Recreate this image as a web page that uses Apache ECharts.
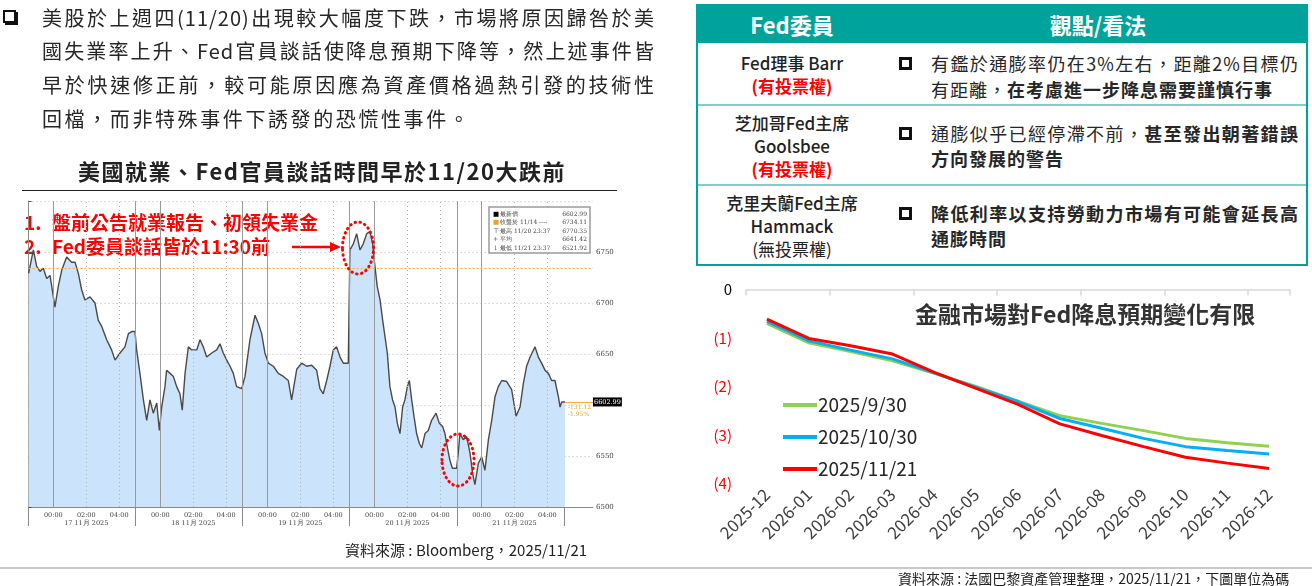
<!DOCTYPE html>
<html><head><meta charset="utf-8">
<script src="https://cdn.jsdelivr.net/npm/echarts@6/dist/echarts.min.js"></script>
<style>
html,body{margin:0;padding:0;background:#fff;}
body{width:1312px;height:586px;overflow:hidden;position:relative;font-family:"Noto Sans CJK TC","Noto Sans",sans-serif;color:#262626;}
#chart{position:absolute;left:0;top:0;width:1312px;height:586px;}
.abs{position:absolute;white-space:nowrap;}
.para{position:absolute;left:42px;width:613px;font-size:20px;line-height:30px;letter-spacing:1px;color:#262626;text-align:justify;text-align-last:justify;}
.chk{position:absolute;width:9px;height:9px;border:2px solid #111;box-shadow:2px 2px 0 #111;}
.tchk{position:absolute;width:7px;height:7px;border:3px solid #111;}
.cell{position:absolute;left:0;width:188px;text-align:center;font-size:17px;line-height:23px;color:#222;font-weight:500;}
.red{color:#ff0000;font-weight:700;}
.rt{position:absolute;left:233px;width:368px;font-size:18px;line-height:25px;letter-spacing:1px;color:#262626;}
.j{text-align:justify;text-align-last:justify;}
.b{font-weight:700;}
</style></head>
<body>
<div id="chart"></div>

<!-- top-left paragraph -->
<div class="chk" style="left:3px;top:10px;"></div>
<div class="para" style="top:3px;">美股於上週四(11/20)出現較大幅度下跌，市場將原因歸咎於美</div>
<div class="para" style="top:36px;">國失業率上升、Fed官員談話使降息預期下降等，然上述事件皆</div>
<div class="para" style="top:70px;">早於快速修正前，較可能原因應為資產價格過熱引發的技術性</div>
<div class="para" style="top:104px;text-align-last:left;letter-spacing:2.6px;">回檔，而非特殊事件下誘發的恐慌性事件。</div>

<div class="abs" style="left:22px;width:600px;top:155px;text-align:center;font-size:22px;letter-spacing:1.5px;font-weight:700;color:#222;line-height:30px;">美國就業、Fed官員談話時間早於11/20大跌前</div>
<div class="abs" style="left:22px;width:595px;top:190px;height:1px;background:#222;"></div>

<!-- table -->
<div class="abs" style="left:696px;top:4px;width:608px;height:258px;border:2px solid #00a39c;background:#fff;">
  <div class="abs" style="left:0;top:0;width:608px;height:37px;background:#00a39c;"></div>
  <div class="abs" style="left:0;top:3px;width:188px;text-align:center;color:#fff;font-size:22px;font-weight:700;line-height:30px;">Fed委員</div>
  <div class="abs" style="left:300px;top:3px;width:200px;text-align:center;color:#fff;font-size:22px;font-weight:700;line-height:30px;">觀點/看法</div>
  <div class="abs" style="left:0;top:98px;width:608px;height:2px;background:#7fd0cb;"></div>
  <div class="abs" style="left:0;top:178px;width:608px;height:2px;background:#7fd0cb;"></div>

  <div class="cell" style="top:45px;">Fed理事 Barr<br><span class="red">(有投票權)</span></div>
  <div class="tchk" style="left:201px;top:51px;"></div>
  <div class="rt j" style="top:45px;">有鑑於通膨率仍在3%左右，距離2%目標仍</div>
  <div class="rt" style="top:71px;">有距離，<span class="b">在考慮進一步降息需要謹慎行事</span></div>

  <div class="cell" style="top:105px;">芝加哥Fed主席<br>Goolsbee<br><span class="red">(有投票權)</span></div>
  <div class="tchk" style="left:201px;top:121px;"></div>
  <div class="rt j" style="top:115px;">通膨似乎已經停滯不前，<span class="b">甚至發出朝著錯誤</span></div>
  <div class="rt b" style="top:140px;">方向發展的警告</div>

  <div class="cell" style="top:185px;">克里夫蘭Fed主席<br>Hammack<br><span style="font-weight:400">(無投票權)</span></div>
  <div class="tchk" style="left:201px;top:201px;"></div>
  <div class="rt j b" style="top:195px;">降低利率以支持勞動力市場有可能會延長高</div>
  <div class="rt b" style="top:220px;">通膨時間</div>
</div>

<!-- sources -->
<div class="abs" style="left:345px;top:540px;font-size:15px;line-height:20px;color:#222;">資料來源 : Bloomberg，2025/11/21</div>
<div class="abs" style="left:0;top:567px;width:1312px;height:2px;background:#c8c8c8;"></div>
<div class="abs" style="left:898px;top:569px;font-size:14px;line-height:18px;color:#222;">資料來源 : 法國巴黎資產管理整理，2025/11/21，下圖單位為碼</div>

<script>
// ---------- Bloomberg intraday (S&P 500) ----------
const bbHours = [
0.00,0.29,0.49,0.69,0.89,1.10,1.30,1.60,1.80,2.01,2.31,2.61,2.82,3.02,3.22,3.42,3.73,4.03,4.23,4.44,4.74,5.04,5.25,5.55,5.85,6.06,6.26,6.46,
6.56,6.76,6.97,7.17,7.37,7.57,7.78,7.94,8.08,8.28,8.38,8.59,8.79,8.99,9.19,9.33,9.50,9.70,9.90,10.21,10.41,10.61,10.81,11.12,11.42,11.62,11.82,12.03,12.23,12.43,12.63,12.94,
13.14,13.44,13.75,13.95,14.15,14.35,14.56,14.86,15.16,15.47,15.77,15.97,16.28,16.58,16.88,17.19,17.49,17.69,17.89,18.10,18.30,18.50,18.70,18.91,19.11,19.41,
19.51,19.72,19.92,20.12,20.32,20.53,20.73,20.89,21.03,21.17,21.34,21.50,21.64,21.78,21.94,22.10,22.25,22.39,22.55,22.71,22.85,23.00,23.12,23.26,23.40,23.56,23.73,23.87,24.07,24.27,24.47,24.74,24.94,25.14,25.28,25.42,25.58,25.73,25.99,
26.09,26.19,26.39,26.60,26.80,26.96,27.10,27.31,27.51,27.71,27.92,28.12,28.32,28.52,28.73,29.03,29.33,29.60,29.84,30.04,30.24,30.45,30.75,30.95,31.15,31.36,31.56,31.76,31.96,32.17,32.27,32.37,32.57];
const bbPrices = [
6729,6752,6736,6731,6734,6724,6727,6696,6716,6732,6745,6740,6740,6729,6713,6703,6706,6700,6683,6677,6664,6654,6644,6651,6657,6670,6672,6672,
6654,6631,6605,6585,6605,6592,6602,6575,6598,6618,6634,6631,6628,6618,6611,6595,6631,6657,6654,6654,6664,6657,6647,6651,6654,6660,6651,6644,6638,6631,6618,6616,
6628,6664,6688,6680,6670,6651,6641,6638,6631,6628,6624,6605,6635,6641,6638,6639,6634,6616,6611,6624,6638,6654,6657,6647,6641,6641,
6752,6758,6768,6752,6758,6768,6770,6758,6736,6716,6703,6683,6667,6651,6618,6605,6598,6582,6572,6598,6605,6618,6624,6605,6589,6572,6562,6558,6572,6575,6585,6592,6582,6579,6572,6559,6546,6538,6538,
6553,6572,6566,6569,6553,6533,6522,6543,6549,6536,6566,6585,6608,6618,6624,6623,6615,6589,6598,6621,6638,6647,6657,6647,6641,6634,6631,6624,6624,6608,6598,6603,6603];
const bbDays = ['17 11月 2025','18 11月 2025','19 11月 2025','20 11月 2025','21 11月 2025'];
const bbSessionLen = 6.5;
const bbClockOffsets = [1.5, 3.5, 5.5];
const bbClockLabels = ['00:00','02:00','04:00'];
const bbYLabels = [6500, 6550, 6650, 6700, 6750];
const bbPrevClose = 6734.11;
const bbLast = 6602.99;
const bbStats = [
  ['最新價', '6602.99', '#000', '■'],
  ['收盤於 11/14 ----', '6734.11', '#f0a020', '■'],
  ['最高 11/20 23:37', '6770.35', '#555', '⊤'],
  ['平均', '6641.42', '#555', '+'],
  ['最低 11/21 23:37', '6521.92', '#555', '↓']
];
const bbChange = ['-131.12', '-1.95%'];

// ---------- Fed rate path expectations (cuts, in 25bp) ----------
const fedMonths = ['2025-12','2026-01','2026-02','2026-03','2026-04','2026-05','2026-06','2026-07','2026-08','2026-09','2026-10','2026-11','2026-12'];
const s0930 = [-0.70,-1.10,-1.28,-1.47,-1.73,-2.00,-2.30,-2.60,-2.76,-2.91,-3.07,-3.16,-3.23];
const s1030 = [-0.66,-1.06,-1.25,-1.43,-1.72,-2.02,-2.31,-2.66,-2.86,-3.07,-3.24,-3.32,-3.39];
const s1121 = [-0.61,-1.01,-1.16,-1.33,-1.71,-2.04,-2.37,-2.77,-3.01,-3.24,-3.46,-3.58,-3.69];

// ---------- build ----------
const bbMax = 34.27;
const labelVals = [], labelTxt = {};
const vLines = [];
bbDays.forEach((day, d) => {
  const start = d * bbSessionLen;
  if (d > 0) vLines.push({xAxis: start, lineStyle: {type: 'solid', color: '#9a9a9a', width: 1}});
  bbClockOffsets.forEach((o, k) => {
    const v = +(start + o).toFixed(2);
    labelVals.push(v);
    labelTxt[v] = (k === 1) ? bbClockLabels[k] + '\n' + day : bbClockLabels[k];
    vLines.push({xAxis: v, lineStyle: k === 0 ? {type: 'solid', color: '#9a9a9a', width: 1} : {type: [1, 3], color: '#b0b0b0', width: 1}});
  });
});
const dayTicks = bbDays.map((d, i) => i * bbSessionLen).concat([bbDays.length * bbSessionLen]);
const lastHour = bbHours[bbHours.length - 1];

const serifFont = '"DejaVu Serif","Liberation Serif",serif';
const cjk = '"Noto Sans CJK TC","Noto Sans",sans-serif';

const statsGraphics = [{
  type: 'rect', shape: {x: 489, y: 207, width: 101, height: 46},
  style: {fill: '#fff', stroke: '#9a9a9a', lineWidth: 1.5}, z: 10
}];
bbStats.forEach((r, i) => {
  const y = 214 + i * 8.5;
  statsGraphics.push({type: 'text', x: 493, y: y, z: 11, style: {text: r[3], fill: r[2], font: '6.5px ' + serifFont, verticalAlign: 'middle'}});
  statsGraphics.push({type: 'text', x: 500, y: y, z: 11, style: {text: r[0], fill: '#444', font: '6px ' + serifFont, verticalAlign: 'middle'}});
  statsGraphics.push({type: 'text', x: 587, y: y, z: 11, style: {text: r[1], fill: '#444', font: '6px ' + serifFont, verticalAlign: 'middle', align: 'right'}});
});

const redFont = 'bold 19px ' + cjk;
const annot = [
  {type: 'text', x: 24, y: 223, style: {text: '1.', fill: '#ff0000', font: redFont, verticalAlign: 'middle'}},
  {type: 'text', x: 52, y: 223, style: {text: '盤前公告就業報告、初領失業金', fill: '#ff0000', font: redFont, verticalAlign: 'middle'}},
  {type: 'text', x: 24, y: 247, style: {text: '2.', fill: '#ff0000', font: redFont, verticalAlign: 'middle'}},
  {type: 'text', x: 52, y: 247, style: {text: 'Fed委員談話皆於11:30前', fill: '#ff0000', font: redFont, verticalAlign: 'middle'}},
  {type: 'text', x: 140, y: 453, style: {text: '紐約Fed主席Williams表示有', fill: '#ff0000', font: redFont, verticalAlign: 'middle'}},
  {type: 'text', x: 140, y: 477, style: {text: '降息空間(盤前發言)', fill: '#ff0000', font: redFont, verticalAlign: 'middle'}},
  {type: 'line', shape: {x1: 292, y1: 247, x2: 333, y2: 247}, style: {stroke: '#ff0000', lineWidth: 2.5}},
  {type: 'polygon', shape: {points: [[341, 247], [330, 242], [330, 252]]}, style: {fill: '#ff0000'}},
  {type: 'line', shape: {x1: 387, y1: 472, x2: 424, y2: 472}, style: {stroke: '#ff0000', lineWidth: 2.5}},
  {type: 'polygon', shape: {points: [[432, 472], [421, 467], [421, 477]]}, style: {fill: '#ff0000'}},
  {type: 'ellipse', shape: {cx: 358, cy: 248, rx: 15.5, ry: 26}, style: {fill: null, stroke: '#ff0000', lineWidth: 3, lineDash: [0.5, 4.5], lineCap: 'round'}, z: 12},
  {type: 'ellipse', shape: {cx: 458, cy: 460, rx: 16, ry: 26}, style: {fill: null, stroke: '#ff0000', lineWidth: 3, lineDash: [0.5, 4.5], lineCap: 'round'}, z: 12},
  {type: 'text', x: 568, y: 407, style: {text: bbChange[0], fill: '#f0a020', font: '6px ' + serifFont, verticalAlign: 'middle'}},
  {type: 'text', x: 568, y: 414, style: {text: bbChange[1], fill: '#f0a020', font: '6px ' + serifFont, verticalAlign: 'middle'}}
];

const chart = echarts.init(document.getElementById('chart'));
chart.setOption({
  animation: false,
  backgroundColor: '#fff',
  title: {
    text: '金融市場對Fed降息預期變化有限', left: 910, top: 298,
    textStyle: {fontSize: 23, fontWeight: 'bold', color: '#333', fontFamily: cjk}
  },
  legend: {
    data: ['2025/9/30', '2025/10/30', '2025/11/21'],
    orient: 'vertical', left: 783, top: 394, padding: 0, icon: 'rect', itemWidth: 34, itemHeight: 4, itemGap: 10,
    textStyle: {fontSize: 19, color: '#262626', fontFamily: cjk, lineHeight: 22, padding: [0, 0, 0, -4]}
  },
  grid: [
    {left: 28.6, top: 201, width: 564.4, height: 306},
    {left: 746, top: 289.5, width: 544, height: 194}
  ],
  xAxis: [
    {
      gridIndex: 0, type: 'value', min: 0, max: bbMax,
      axisLine: {show: true, onZero: false, lineStyle: {color: '#8a8a8a', width: 1}},
      axisTick: {show: true, customValues: dayTicks, length: 19, lineStyle: {color: '#8a8a8a'}},
      axisLabel: {customValues: labelVals, formatter: v => labelTxt[+(+v).toFixed(2)] || '', fontSize: 6.5, lineHeight: 8, color: '#444', fontFamily: serifFont, margin: 4},
      splitLine: {show: false}
    },
    {
      gridIndex: 1, type: 'category', data: fedMonths, position: 'top',
      axisLine: {show: true, lineStyle: {color: '#d9d9d9', width: 1.5}},
      axisTick: {show: true, inside: true, length: 6, lineStyle: {color: '#d9d9d9', width: 1.5}},
      axisLabel: {show: false}, splitLine: {show: false}
    },
    {
      gridIndex: 1, type: 'category', data: fedMonths, position: 'bottom',
      axisLine: {show: false}, axisTick: {show: false},
      axisLabel: {rotate: 45, fontSize: 17, color: '#404040', fontFamily: cjk, margin: 8, interval: 0},
      splitLine: {show: false}
    }
  ],
  yAxis: [
    {
      gridIndex: 0, type: 'value', position: 'right', min: 6500, max: 6800, interval: 50,
      axisLine: {show: true, lineStyle: {color: '#8a8a8a'}},
      axisTick: {show: true, length: 3, lineStyle: {color: '#555'}},
      axisLabel: {customValues: bbYLabels, formatter: v => String(v), fontSize: 7, color: '#444', fontFamily: serifFont, margin: 3},
      splitLine: {show: true, lineStyle: {color: '#bdbdbd', type: [1, 3]}}
    },
    {
      gridIndex: 1, type: 'value', min: -4, max: 0, interval: 1,
      axisLine: {show: false}, axisTick: {show: false}, splitLine: {show: false},
      axisLabel: {
        margin: 14, fontSize: 15, fontFamily: cjk,
        formatter: v => v === 0 ? '{k|0}' : '{r|(' + (-v) + ')}',
        rich: {k: {color: '#000', fontSize: 15, fontFamily: cjk}, r: {color: '#ff0000', fontSize: 15, fontFamily: cjk}}
      }
    }
  ],
  series: [
    {
      name: 'SPX', type: 'line', xAxisIndex: 0, yAxisIndex: 0,
      data: bbHours.map((h, i) => [h, bbPrices[i]]),
      showSymbol: false, symbol: 'none',
      lineStyle: {color: '#4a4a4a', width: 1.4},
      areaStyle: {color: '#cce4fb', opacity: 1, origin: 'start'},
      markLine: {
        silent: true, symbol: 'none', label: {show: false},
        data: vLines.concat([
          {yAxis: bbPrevClose, lineStyle: {color: '#f5b041', type: [2, 2], width: 1.2}},
          [
            {coord: [lastHour, bbLast], lineStyle: {color: '#f5b041', type: 'solid', width: 1.2}},
            {coord: [bbMax, bbLast], label: {show: true, position: 'end', formatter: String(bbLast), backgroundColor: '#000', color: '#fff', fontSize: 6.5, padding: [1, 1], fontFamily: serifFont, distance: 0}}
          ]
        ])
      }
    },
    {name: '2025/9/30', type: 'line', xAxisIndex: 2, yAxisIndex: 1, data: s0930, symbol: 'none', lineStyle: {color: '#92d050', width: 3}, itemStyle: {color: '#92d050'}},
    {name: '2025/10/30', type: 'line', xAxisIndex: 2, yAxisIndex: 1, data: s1030, symbol: 'none', lineStyle: {color: '#00b0f0', width: 3}, itemStyle: {color: '#00b0f0'}},
    {name: '2025/11/21', type: 'line', xAxisIndex: 2, yAxisIndex: 1, data: s1121, symbol: 'none', lineStyle: {color: '#ff0000', width: 3}, itemStyle: {color: '#ff0000'}}
  ],
  graphic: {elements: statsGraphics.concat(annot)}
});
</script>
</body></html>
